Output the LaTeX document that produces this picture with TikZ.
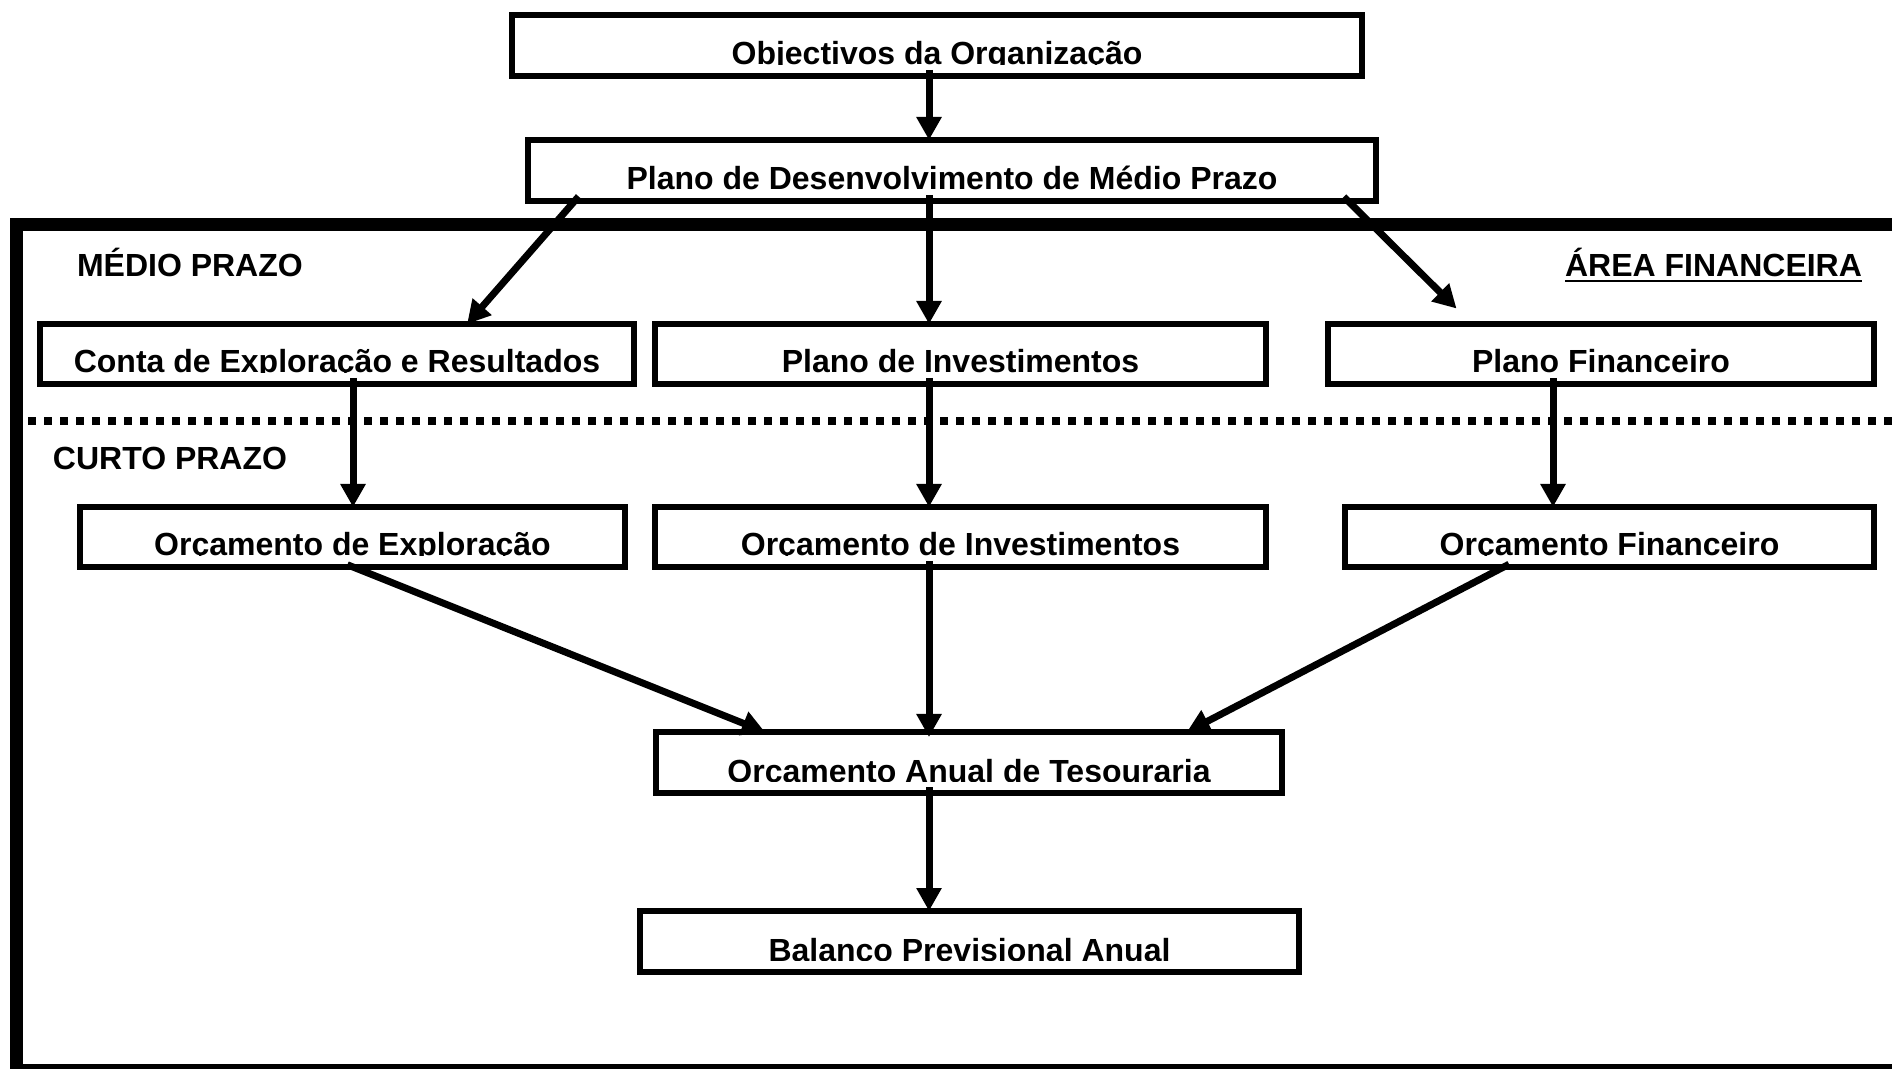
\documentclass[tikz,border=0pt]{standalone}
\usepackage{fontspec}
\setmainfont{Liberation Sans}
\usetikzlibrary{arrows.meta,calc}
\tikzset{
  stepbox/.style={draw, line width=2.75pt, fill=white, inner sep=0pt, outer sep=0pt},
  lbl/.style={font=\bfseries\fontsize{16pt}{19pt}\selectfont, inner sep=0pt, outer sep=0pt},
  flow/.style={line width=3.5pt, -{Triangle[length=11.5pt,width=12pt]}, shorten <=-3pt},
}
% box text sits on the bottom edge; everything below the baseline is cut off
\newcommand\cutlabel[2]{%
  \begin{scope}
    \clip ([yshift=5.65pt]#1.south west) rectangle (#1.north east);
    \node[lbl, anchor=base] at ([yshift=5.5pt]#1.south) {#2};
  \end{scope}}
\begin{document}
\begin{tikzpicture}[x=0.5pt,y=-0.5pt]
\clip (0,0) rectangle (1892,1069);

% financial area frame and the medium/short term divider
\draw[line width=6.5pt] (16.5,225) rectangle (1905,1070);
\draw[line width=4pt, dash pattern=on 4pt off 4pt] (28,421.5) -- (1892,421.5);

% boxes
\node[stepbox, minimum width=425pt,   minimum height=30.5pt] (obj)   at (937,45.5)    {};
\node[stepbox, minimum width=424pt,   minimum height=30.5pt] (plan)  at (952,170.5)   {};
\node[stepbox, minimum width=297pt,   minimum height=30pt]   (conta) at (337,354)     {};
\node[stepbox, minimum width=305.5pt, minimum height=30pt]   (pinv)  at (960.5,354)   {};
\node[stepbox, minimum width=273pt,   minimum height=30pt]   (pfin)  at (1601,354)    {};
\node[stepbox, minimum width=272.5pt, minimum height=30pt]   (oexp)  at (352.5,537)   {};
\node[stepbox, minimum width=305.5pt, minimum height=30pt]   (oinv)  at (960.5,537)   {};
\node[stepbox, minimum width=264.5pt, minimum height=30pt]   (ofin)  at (1609.5,537)  {};
\node[stepbox, minimum width=313pt,   minimum height=30.5pt] (tes)   at (969,762.5)   {};
\node[stepbox, minimum width=329.5pt, minimum height=30.5pt] (bal)   at (969.5,941.5) {};

\cutlabel{obj}{Objectivos da Organização}
\cutlabel{plan}{Plano de Desenvolvimento de Médio Prazo}
\cutlabel{conta}{Conta de Exploração e Resultados}
\cutlabel{pinv}{Plano de Investimentos}
\cutlabel{pfin}{Plano Financeiro}
\cutlabel{oexp}{Orçamento de Exploração}
\cutlabel{oinv}{Orçamento de Investimentos}
\cutlabel{ofin}{Orçamento Financeiro}
\cutlabel{tes}{Orçamento Anual de Tesouraria}
\cutlabel{bal}{Balanço Previsional Anual}

% section headings
\node[lbl, anchor=base west] (medio) at (77,277) {MÉDIO PRAZO};
\node[lbl, anchor=base west] (curto) at (53,470) {CURTO PRAZO};
\node[lbl, anchor=base east] (area)  at (1862,277) {ÁREA FINANCEIRA};
\draw[line width=1.4pt] ([yshift=-2pt]area.base west) -- ([yshift=-2pt]area.base east);

% connector columns
\coordinate (cx) at (929,0);
\coordinate (cl) at (353,0);
\coordinate (cr) at (1553,0);

% connectors
\draw[flow] (cx |- obj.south) -- (cx |- plan.north);
\draw[flow] (cx |- plan.south) -- (cx |- pinv.north);
\draw[flow] ($(plan.south west)!0.055!(plan.south east)$) -- ($(conta.north west)!0.719!(conta.north east)$);
\draw[flow, shorten >=11pt] ($(plan.south west)!0.967!(plan.south east)$) -- ($(pfin.north west)!0.264!(pfin.north east)$);
\draw[flow] (cl |- conta.south) -- (cl |- oexp.north);
\draw[flow] (cx |- pinv.south) -- (cx |- oinv.north);
\draw[flow] (cr |- pfin.south) -- (cr |- ofin.north);
\draw[flow] (cl |- oexp.south) -- ($(tes.north west)!0.174!(tes.north east)$);
\draw[flow, shorten >=-2.5pt] (cx |- oinv.south) -- (cx |- tes.north);
\draw[flow] ($(ofin.south west)!0.30!(ofin.south east)$) -- ($(tes.north west)!0.848!(tes.north east)$);
\draw[flow] (cx |- tes.south) -- (cx |- bal.north);
\end{tikzpicture}
\end{document}
